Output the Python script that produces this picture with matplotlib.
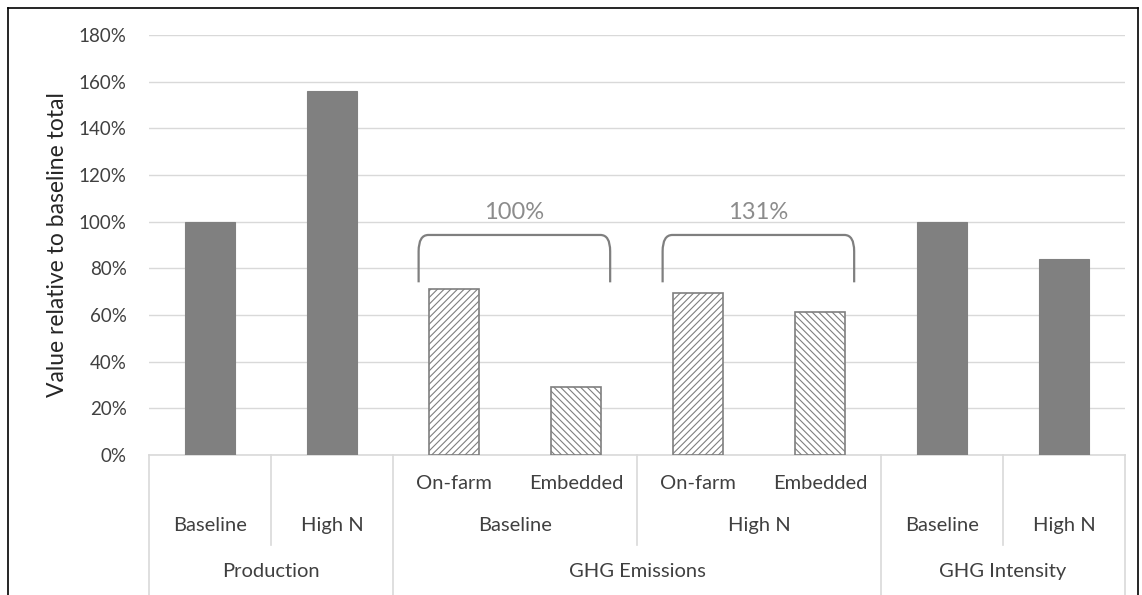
import matplotlib
matplotlib.use("Agg")
import matplotlib.pyplot as plt
from matplotlib.path import Path
from matplotlib.patches import PathPatch
from matplotlib.lines import Line2D
import matplotlib.transforms as mtransforms

plt.rcParams['font.family'] = ['Lato', 'DejaVu Sans']
plt.rcParams['hatch.color'] = '#7f7f7f'
plt.rcParams['hatch.linewidth'] = 0.8

# ---- data ----
leaf_labels = ["Baseline", "High N", "On-farm", "Embedded", "On-farm", "Embedded", "Baseline", "High N"]
mid_labels = ["Baseline", "High N"]            # sub-groups of GHG Emissions
group_labels = ["Production", "GHG Emissions", "GHG Intensity"]
values = [1.00, 1.56, 0.71, 0.29, 0.695, 0.615, 1.00, 0.84]
bar_kind = ["solid", "solid", "onfarm", "embedded", "onfarm", "embedded", "solid", "solid"]
bracket_labels = ["100%", "131%"]
yticks = [0, 0.2, 0.4, 0.6, 0.8, 1.0, 1.2, 1.4, 1.6, 1.8]

W, H = 1142, 595
fig = plt.figure(figsize=(W / 100, H / 100), dpi=100)
ax = fig.add_axes([149 / W, 1 - 455 / H, (1125 - 149) / W, 420 / H])

x = list(range(len(values)))
for xi, v, k in zip(x, values, bar_kind):
    if k == "solid":
        ax.bar(xi, v, width=0.41, color='#808080', edgecolor='#808080', linewidth=0.8, zorder=3)
    else:
        ax.bar(xi, v, width=0.41, color='white', edgecolor='#7f7f7f', linewidth=1.2,
               hatch='/////' if k == "onfarm" else '\\\\\\\\\\', zorder=3)

ax.set_xlim(-0.5, len(values) - 0.5)
ax.set_ylim(0, 1.8)
ax.set_yticks(yticks)
ax.set_yticklabels([f"{int(round(t * 100))}%" for t in yticks], fontsize=13.5, color='#404040')
ax.tick_params(axis='y', length=0, pad=16)
ax.tick_params(axis='x', length=0, labelbottom=False)
ax.grid(axis='y', color='#d9d9d9', linewidth=1.0, zorder=0)
for s in ['top', 'right', 'left']:
    ax.spines[s].set_visible(False)
ax.spines['bottom'].set_color('#d9d9d9')
ax.spines['bottom'].set_linewidth(1.2)
ax.set_ylabel("Value relative to baseline total", fontsize=16.5, color='#262626', labelpad=8)

# ---- multi-level category table ----
tr = mtransforms.blended_transform_factory(ax.transData, ax.transAxes)
lc = '#d9d9d9'
def vline(xp, y0, y1):
    ax.add_line(Line2D([xp, xp], [y0, y1], transform=tr, color=lc, lw=1.2, clip_on=False))

y_leaf_top = -0.214
y_bottom = -0.34
for xp in [-0.5, 1.5, 5.5, 7.5]:
    vline(xp, 0, y_bottom)
for xp in [0.5, 3.5, 6.5]:
    vline(xp, 0, y_leaf_top)

tc = '#404040'
fs = 14.5
for i, lab in enumerate(leaf_labels):
    if i in (2, 3, 4, 5):
        ax.text(i, -0.068, lab, transform=tr, ha='center', va='center', fontsize=fs, color=tc)
    else:
        ax.text(i, -0.168, lab, transform=tr, ha='center', va='center', fontsize=fs, color=tc)
for lab, xc in zip(mid_labels, [2.5, 4.5]):
    ax.text(xc, -0.168, lab, transform=tr, ha='center', va='center', fontsize=fs, color=tc)
for lab, xc in zip(group_labels, [0.5, 3.5, 6.5]):
    ax.text(xc, -0.278, lab, transform=tr, ha='center', va='center', fontsize=fs, color=tc)

# ---- brackets ----
def bracket(x0, x1, ytop, ybot, label):
    dx, dy = 0.08, 0.07
    verts = [(x0, ybot), (x0, ytop - dy), (x0, ytop), (x0 + dx, ytop),
             (x1 - dx, ytop), (x1, ytop), (x1, ytop - dy), (x1, ybot)]
    codes = [Path.MOVETO, Path.LINETO, Path.CURVE3, Path.CURVE3,
             Path.LINETO, Path.CURVE3, Path.CURVE3, Path.LINETO]
    ax.add_patch(PathPatch(Path(verts, codes), fill=False, edgecolor='#7f7f7f', lw=1.6, zorder=4))
    ax.text((x0 + x1) / 2, ytop + 0.095, label, ha='center', va='center',
            fontsize=17, color='#8c8c8c', zorder=4)

for (a, b), lab in zip([(2, 3), (4, 5)], bracket_labels):
    bracket(a - 0.29, b + 0.28, 0.943, 0.74, lab)

# ---- outer frame ----
frame_kw = dict(transform=fig.transFigure, color='black', lw=1.2)
fig.add_artist(Line2D([8 / W, 8 / W], [0, 1 - 8 / H], **frame_kw))
fig.add_artist(Line2D([8 / W, 1138 / W], [1 - 8 / H, 1 - 8 / H], **frame_kw))
fig.add_artist(Line2D([1138 / W, 1138 / W], [0, 1 - 8 / H], **frame_kw))

fig.savefig("out.png", dpi=100)
